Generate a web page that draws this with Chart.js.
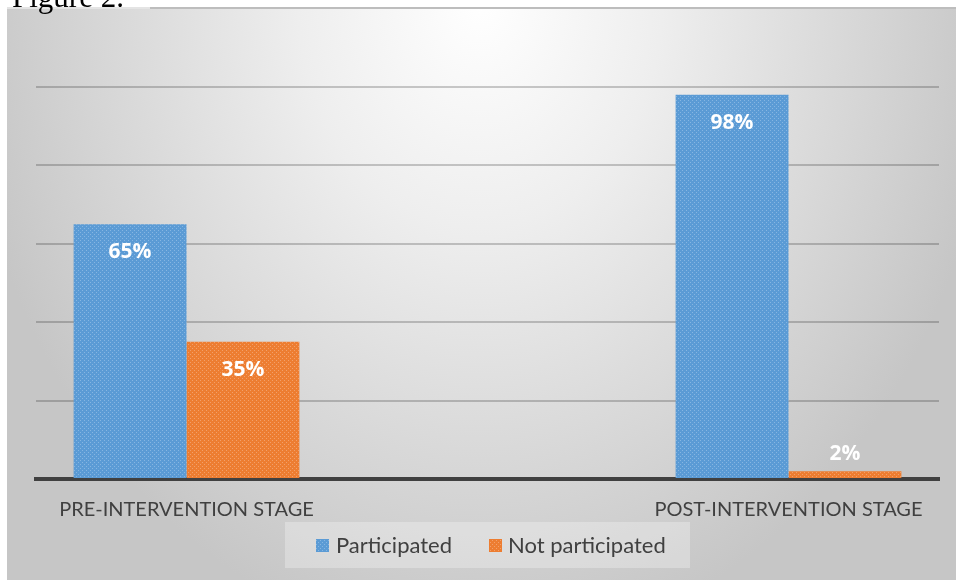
<!DOCTYPE html>
<html><head><meta charset="utf-8">
<script src="https://cdn.jsdelivr.net/npm/chart.js@4.4.1/dist/chart.umd.min.js"></script>
<style>html,body{margin:0;padding:0;background:#fff;overflow:hidden}#wrap{position:relative;width:956px;height:580px}</style>
</head><body><div id="wrap"><canvas id="c" width="956" height="580"></canvas></div>
<script>
const categories = ['PRE-INTERVENTION STAGE', '', 'POST-INTERVENTION STAGE'];
const seriesNames = ['Participated', 'Not participated'];
const participated = [65, null, 98];
const notParticipated = [35, null, 2];
const yTicks = [0, 20, 40, 60, 80, 100];
const figureCaption = 'Figure 2.';

const BLUE = '#5b9bd5', ORANGE = '#ed7d31';
function texture(base, light) {
  const c = document.createElement('canvas'); c.width = 4; c.height = 4;
  const x = c.getContext('2d');
  x.fillStyle = base; x.fillRect(0, 0, 4, 4);
  x.fillStyle = light;
  x.fillRect(0, 0, 1, 1); x.fillRect(2, 2, 1, 1);
  return document.getElementById('c').getContext('2d').createPattern(c, 'repeat');
}
const blueFill = texture(BLUE, '#86b6e2');
const orangeFill = texture(ORANGE, '#f3a06a');

const bgPlugin = {
  id: 'bg',
  beforeDraw(chart) {
    const ctx = chart.ctx;
    ctx.save();
    ctx.fillStyle = '#ffffff'; ctx.fillRect(0, 0, 956, 580);
    ctx.save();
    ctx.beginPath(); ctx.rect(7, 8, 949, 572); ctx.clip();
    ctx.translate(480, 0); ctx.scale(1, 1.25);
    const g = ctx.createRadialGradient(0, 0, 0, 0, 0, 520);
    g.addColorStop(0, '#ffffff');
    g.addColorStop(0.35, '#eeeeee');
    g.addColorStop(1, '#c6c6c6');
    ctx.fillStyle = g; ctx.fillRect(-500, 0, 1000, 470);
    ctx.restore();
    ctx.fillStyle = '#bdbdbd'; ctx.fillRect(150, 7, 806, 2);
    ctx.fillStyle = '#e4e4e4'; ctx.fillRect(7, 7, 143, 2);
    ctx.fillStyle = '#000';
    ctx.font = '31px "Liberation Serif"';
    ctx.textBaseline = 'alphabetic'; ctx.textAlign = 'left';
    ctx.fillText(figureCaption, 12, 7);
    ctx.restore();
  }
};

const labelPlugin = {
  id: 'vlabels',
  afterDatasetsDraw(chart) {
    const ctx = chart.ctx;
    ctx.save();
    ctx.fillStyle = '#ffffff';
    ctx.font = 'bold 21px "Open Sans"';
    ctx.textAlign = 'center'; ctx.textBaseline = 'middle';
    chart.data.datasets.forEach((ds, i) => {
      chart.getDatasetMeta(i).data.forEach((el, j) => {
        const v = ds.data[j];
        if (v === null) return;
        const h = el.base - el.y;
        const y = h > 40 ? el.y + 28 : el.y - 17;
        ctx.fillText(v + '%', el.x, y);
      });
    });
    ctx.restore();
  }
};

const legendPlugin = {
  id: 'legendBox',
  afterDraw(chart) {
    const ctx = chart.ctx;
    ctx.save();
    ctx.fillStyle = 'rgba(255,255,255,0.28)';
    ctx.fillRect(285, 522, 405, 46);
    ctx.font = '22px Lato';
    ctx.textBaseline = 'middle'; ctx.textAlign = 'left';
    const items = [[316, 336, blueFill], [489, 508, orangeFill]];
    seriesNames.forEach((n, i) => {
      const [sx, tx, f] = items[i];
      ctx.fillStyle = f; ctx.fillRect(sx, 539, 13, 13);
      ctx.fillStyle = '#404040';
      ctx.fillText(n, tx, 546);
    });
    ctx.restore();
  }
};

new Chart(document.getElementById('c'), {
  type: 'bar',
  data: {
    labels: categories,
    datasets: [
      { label: seriesNames[0], data: participated, backgroundColor: blueFill, borderWidth: 0, categoryPercentage: 0.75, barPercentage: 1.0 },
      { label: seriesNames[1], data: notParticipated, backgroundColor: orangeFill, borderWidth: 0, categoryPercentage: 0.75, barPercentage: 1.0 }
    ]
  },
  options: {
    responsive: false, animation: false, devicePixelRatio: 1,
    layout: { padding: { left: 36, right: 17, top: 87, bottom: 61 } },
    plugins: { legend: { display: false }, tooltip: { enabled: false }, title: { display: false } },
    scales: {
      x: {
        grid: { display: false, drawTicks: false },
        border: { display: true, color: '#404040', width: 4 },
        ticks: { color: '#404040', font: { family: 'Lato', size: 20 }, padding: 19, maxRotation: 0, autoSkip: false },
        afterFit(s) { s.height = 40; }
      },
      y: {
        min: 0, max: 100,
        afterBuildTicks(s) { s.ticks = yTicks.map(v => ({ value: v })); },
        ticks: { display: false },
        grid: { color: 'rgba(0,0,0,0.2)', lineWidth: 2, drawTicks: false },
        border: { display: false },
        afterFit(s) { s.width = 0; }
      }
    }
  },
  plugins: [bgPlugin, labelPlugin, legendPlugin]
});
</script></body></html>
